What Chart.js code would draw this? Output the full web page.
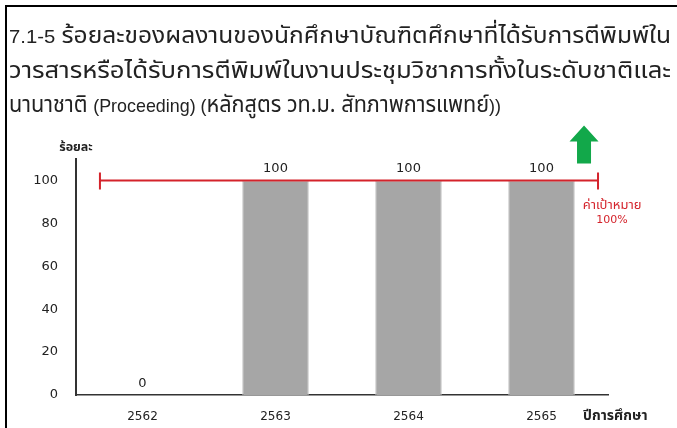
<!DOCTYPE html>
<html lang="th">
<head>
<meta charset="utf-8">
<script src="https://cdn.jsdelivr.net/npm/chart.js@4"></script>
<style>
  html, body { margin: 0; padding: 0; background: #fff; }
  #wrap { position: relative; width: 677px; height: 428px; overflow: hidden; }
  #frame {
    position: absolute; left: 5px; top: 5px; width: 672px; height: 430px;
    border-top: 2px solid #000; border-left: 2px solid #000; box-sizing: border-box;
  }
  #title {
    position: absolute; left: 9px; top: 19px; width: 668px;
    font-family: "Noto Sans Thai", "Liberation Sans", sans-serif;
    font-size: 23px; line-height: 34px; color: #222; white-space: nowrap;
  }
  #title .line { display: inline-block; transform-origin: 0 50%; }
  #title .lat { font-family: "Liberation Sans", sans-serif; font-size: 19px; }
  #chart { position: absolute; left: 0; top: 0; }
</style>
</head>
<body>
<div id="wrap">
  <div id="frame"></div>
  <canvas id="chart" width="677" height="428"></canvas>
  <div id="title">
    <span class="line" data-w="662"><span class="lat">7.1-5</span> ร้อยละของผลงานของนักศึกษาบัณฑิตศึกษาที่ได้รับการตีพิมพ์ใน</span><br>
    <span class="line" data-w="662">วารสารหรือได้รับการตีพิมพ์ในงานประชุมวิชาการทั้งในระดับชาติและ</span><br>
    <span class="line" data-w="492">นานาชาติ <span class="lat">(Proceeding) (</span>หลักสูตร วท.ม. สัทภาพการแพทย์<span class="lat">))</span></span>
  </div>
</div>
<script>
// stretch each heading line to its set width
document.querySelectorAll('#title .line').forEach(el => {
    const w = el.getBoundingClientRect().width;
    el.style.transform = 'scaleX(' + (Number(el.dataset.w) / w) + ')';
});

// academic years and percentage of published student work
const years = ['2562', '2563', '2564', '2565'];
const percents = [0, 100, 100, 100];
const yTicks = [0, 20, 40, 60, 80, 100];
const target = 100;
const targetLabel = ['ค่าเป้าหมาย', '100%'];
const yTitle = 'ร้อยละ';
const xTitle = 'ปีการศึกษา';

const numFont = '"DejaVu Sans", sans-serif';
const thaiFont = '"Noto Sans Thai", "Liberation Sans", sans-serif';

// value labels, target line, goal arrow and axis titles
const overlay = {
    id: 'overlay',
    afterDatasetsDraw(chart) {
        const ctx = chart.ctx;
        const x = chart.scales.x;
        const y = chart.scales.y;
        const area = chart.chartArea;

        // numbers above the bars
        ctx.save();
        ctx.fillStyle = '#222';
        ctx.font = '13px ' + numFont;
        ctx.textAlign = 'center';
        ctx.textBaseline = 'alphabetic';
        chart.getDatasetMeta(0).data.forEach((bar, i) => {
            ctx.fillText(String(percents[i]), bar.x, bar.y - 8);
        });

        // target line with end caps
        const ty = y.getPixelForValue(target);
        const x0 = x.getPixelForValue(-0.32);
        const x1 = x.getPixelForValue(3.425);
        ctx.strokeStyle = '#d4232b';
        ctx.lineWidth = 2;
        ctx.beginPath();
        ctx.moveTo(x0, ty); ctx.lineTo(x1, ty);
        ctx.moveTo(x0, ty - 8); ctx.lineTo(x0, ty + 9);
        ctx.moveTo(x1, ty - 8); ctx.lineTo(x1, ty + 9);
        ctx.stroke();

        ctx.fillStyle = '#d4232b';
        ctx.font = '13px ' + thaiFont;
        ctx.textBaseline = 'middle';
        ctx.fillText(targetLabel[0], x1 + 14, ty + 26);
        ctx.font = '11px ' + numFont;
        ctx.fillText(targetLabel[1], x1 + 14, ty + 40);

        // green arrow pointing up (higher is better)
        const ax = x1 - 14;
        ctx.fillStyle = '#12a84a';
        ctx.beginPath();
        ctx.moveTo(ax, ty - 55);
        ctx.lineTo(ax + 14.5, ty - 39);
        ctx.lineTo(ax + 7, ty - 39);
        ctx.lineTo(ax + 7, ty - 17);
        ctx.lineTo(ax - 7, ty - 17);
        ctx.lineTo(ax - 7, ty - 39);
        ctx.lineTo(ax - 14.5, ty - 39);
        ctx.closePath();
        ctx.fill();

        // axis titles
        ctx.fillStyle = '#222';
        ctx.font = 'bold 12.5px ' + thaiFont;
        ctx.textAlign = 'center';
        ctx.fillText(yTitle, area.left, area.top - 11);
        ctx.font = 'bold 14px ' + thaiFont;
        ctx.textAlign = 'left';
        ctx.fillText(xTitle, area.right - 25, area.bottom + 22);
        ctx.restore();
    }
};

new Chart(document.getElementById('chart'), {
    type: 'bar',
    data: {
        labels: years,
        datasets: [{
            data: percents,
            backgroundColor: '#a6a6a6',
            borderColor: '#c2c2c2',
            borderWidth: 1,
            borderSkipped: 'bottom',
            categoryPercentage: 0.5,
            barPercentage: 1
        }]
    },
    options: {
        responsive: false,
        animation: false,
        layout: {padding: {top: 159, right: 69, bottom: 0, left: 0}},
        plugins: {
            legend: {display: false},
            tooltip: {enabled: false}
        },
        scales: {
            x: {
                grid: {display: false, drawTicks: false},
                border: {display: true, color: '#333', width: 1.5},
                ticks: {color: '#222', font: {family: numFont, size: 12}, padding: 15},
                afterFit: (s) => { s.height = 33; }
            },
            y: {
                min: 0,
                max: 110,
                grid: {display: false, drawTicks: false},
                border: {display: true, color: '#333', width: 2},
                ticks: {color: '#222', font: {family: numFont, size: 13}, padding: 18},
                afterBuildTicks: (s) => { s.ticks = yTicks.map(v => ({value: v})); },
                afterFit: (s) => { s.width = 76; }
            }
        }
    },
    plugins: [overlay]
});
</script>
</body>
</html>
